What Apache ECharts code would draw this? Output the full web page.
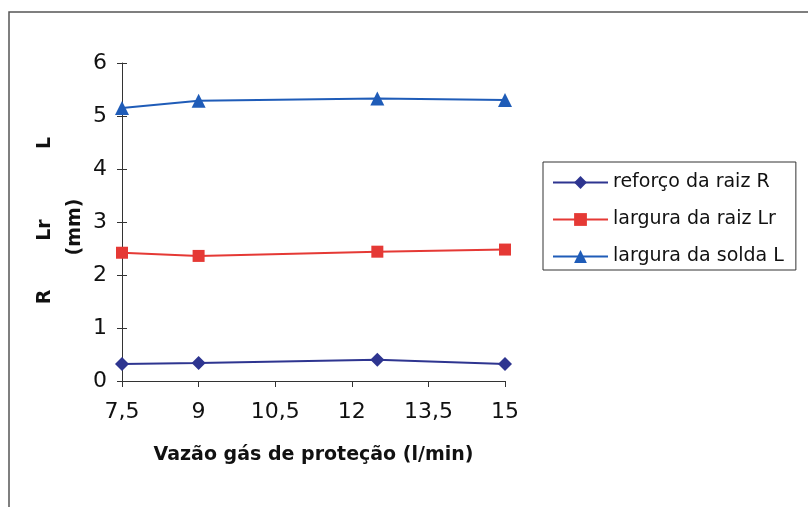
<!DOCTYPE html>
<html lang="pt-BR">
<head>
    <meta charset="UTF-8">
    <title>Vazão gás de proteção</title>
</head>
<script src="https://cdn.jsdelivr.net/npm/echarts@6/dist/echarts.min.js"></script>
<body style="margin:0">
    <div id="echarts" style="height: 507px;width:808px"></div>
</body>
<script>
    // dados
    const vazao = [7.5, 9, 12.5, 15];
    const reforcoRaiz = [0.32, 0.34, 0.40, 0.32];
    const larguraRaiz = [2.42, 2.36, 2.44, 2.48];
    const larguraSolda = [5.15, 5.29, 5.33, 5.30];
    const nomes = ['reforço da raiz R', 'largura da raiz Lr', 'largura da solda L'];

    const fonte = 'DejaVu Sans';
    const pares = vals => vals.map((v, i) => [vazao[i], v]);

    let myChart = window.echarts.init(document.getElementById('echarts'));

    const eixoX = {
      type: 'value',
      min: 7.5,
      max: 15,
      interval: 1.5,
      splitLine: { show: false },
    };
    const eixoY = {
      type: 'value',
      min: 0,
      max: 6,
      interval: 1,
      splitLine: { show: false },
    };
    const linhaEixo = { show: true, lineStyle: { color: '#333', width: 1 } };

    let option = {
      backgroundColor: '#fff',
      animation: false,
      grid: { left: 122, right: 303, top: 63, bottom: 126 },
      legend: {
        orient: 'vertical',
        left: 543,
        top: 162,
        width: 252,
        padding: [11, 12, 4, 9],
        itemGap: 18,
        itemWidth: 55,
        itemHeight: 16,
        borderColor: '#333',
        borderWidth: 1,
        textStyle: { fontFamily: fonte, fontSize: 19, color: '#111' },
        data: nomes,
      },
      xAxis: [
        Object.assign({}, eixoX, {
          axisLine: linhaEixo,
          axisTick: { show: true, length: 6, lineStyle: { color: '#333' } },
          axisLabel: {
            margin: 20,
            fontFamily: fonte,
            fontSize: 22,
            color: '#111',
            formatter: v => String(v).replace('.', ','),
          },
          name: 'Vazão gás de proteção (l/min)',
          nameLocation: 'middle',
          nameGap: 65,
          nameTextStyle: { fontFamily: fonte, fontSize: 19, fontWeight: 'bold', color: '#111' },
        }),
        // só para os traços de escala que cruzam o eixo
        Object.assign({}, eixoX, {
          axisLine: { show: false },
          axisTick: { show: true, inside: true, length: 6, lineStyle: { color: '#333' } },
          axisLabel: { show: false },
        }),
      ],
      yAxis: [
        Object.assign({}, eixoY, {
          axisLine: linhaEixo,
          axisTick: { show: true, length: 5, lineStyle: { color: '#333' } },
          axisLabel: { margin: 15, fontFamily: fonte, fontSize: 22, color: '#111' },
        }),
        Object.assign({}, eixoY, {
          position: 'left',
          axisLine: { show: false },
          axisTick: { show: true, inside: true, length: 5, lineStyle: { color: '#333' } },
          axisLabel: { show: false },
        }),
      ],
      graphic: [
        {
          type: 'rect',
          silent: true,
          shape: { x: 9, y: 12, width: 900, height: 600 },
          style: { fill: 'none', stroke: '#555', lineWidth: 1.5 },
        },
        ...[['L', 45, 143], ['Lr', 45, 230], ['R', 45, 297], ['(mm)', 75, 227]].map(([t, x, y]) => ({
          type: 'text',
          x: x,
          y: y,
          rotation: Math.PI / 2,
          silent: true,
          style: {
            text: t,
            align: 'center',
            verticalAlign: 'middle',
            font: 'bold 19px "DejaVu Sans"',
            fill: '#111',
          },
        })),
      ],
      series: [
        {
          name: nomes[0],
          type: 'line',
          data: pares(reforcoRaiz),
          symbol: 'diamond',
          symbolSize: 14,
          color: '#2e3590',
          lineStyle: { width: 2 },
        },
        {
          name: nomes[1],
          type: 'line',
          data: pares(larguraRaiz),
          symbol: 'rect',
          symbolSize: 12,
          color: '#e53935',
          lineStyle: { width: 2 },
        },
        {
          name: nomes[2],
          type: 'line',
          data: pares(larguraSolda),
          symbol: 'triangle',
          symbolSize: 14,
          color: '#1f5cb8',
          lineStyle: { width: 2 },
        },
      ],
    };
    myChart.setOption(option);
</script>
</html>
